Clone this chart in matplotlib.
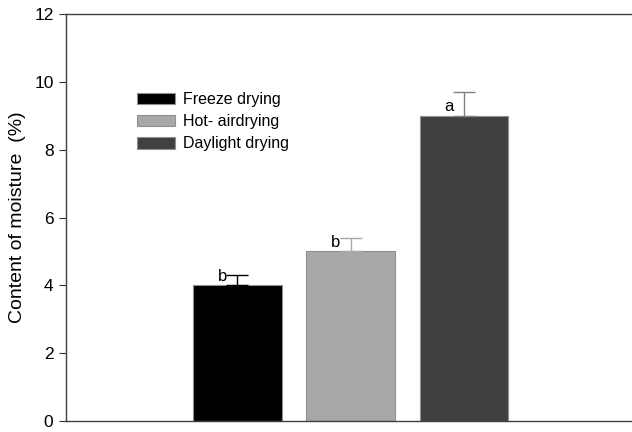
import matplotlib
matplotlib.use("Agg")
import matplotlib.pyplot as plt

plt.rcParams['font.family'] = ['Liberation Sans', 'DejaVu Sans']

# data
methods = ['Freeze drying', 'Hot- airdrying', 'Daylight drying']
moisture = [4.0, 5.0, 9.0]
moisture_err = [0.3, 0.4, 0.7]
letters = ['b', 'b', 'a']

bar_colors = ['#000000', '#a8a8a8', '#404040']
err_colors = ['#000000', '#a8a8a8', '#808080']

fig = plt.figure(figsize=(6.32, 4.32), dpi=100)
ax = fig.add_axes([66 / 632, 11 / 432, 1 - 66 / 632, 407 / 432])

xpos = [1, 2, 3]
handles = []
for x, val, err, c, ec, lab, let in zip(xpos, moisture, moisture_err, bar_colors,
                                         err_colors, methods, letters):
    b = ax.bar(x, val, width=0.78, color=c, edgecolor='#909090', linewidth=0.8,
               label=lab, zorder=2)
    handles.append(b)
    ax.errorbar(x, val, yerr=[[0], [err]], fmt='none', ecolor=ec, elinewidth=1,
                capsize=8, capthick=1, zorder=3)
    ax.text(x - 0.09, val + 0.27, let, ha='right', va='center', fontsize=12)

ax.set_xlim(-0.51, 4.48)
ax.set_ylim(0, 12)
ax.set_yticks(range(0, 13, 2))
ax.set_xticks([])
ax.tick_params(axis='y', direction='out', length=5, pad=4, labelsize=12.5,
               colors='#333333', labelcolor='black')
for s in ['left', 'top', 'bottom']:
    ax.spines[s].set_color('#404040')
    ax.spines[s].set_linewidth(1)
ax.spines['right'].set_visible(False)

ax.set_ylabel('Content of moisture  (%)', fontsize=14, labelpad=5.5)

ax.legend(handles=handles, loc='upper left', bbox_to_anchor=(137 / 632, 1 - 92 / 432),
          bbox_transform=fig.transFigure, frameon=False, fontsize=11.5,
          handlelength=2.4, handleheight=0.75, handletextpad=0.5,
          labelspacing=0.45, borderpad=0, borderaxespad=0)

fig.savefig('out.png', dpi=100)
